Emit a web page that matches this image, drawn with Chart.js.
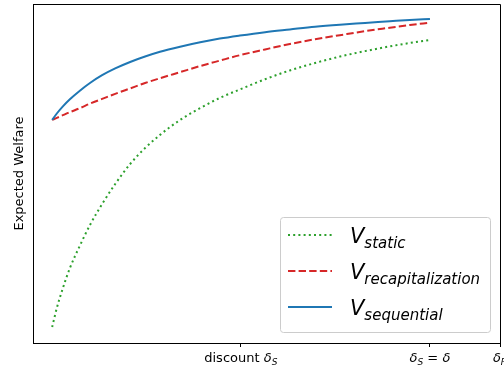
<!DOCTYPE html>
<html>
<head>
<meta charset="utf-8">
<script src="https://cdn.jsdelivr.net/npm/chart.js@4"></script>
<style>
  html, body { margin: 0; padding: 0; background: #fff; }
  canvas { display: block; }
</style>
</head>
<body>
<canvas id="welfare" width="504" height="371"></canvas>
<script>
const discount = [0.041, 0.051, 0.064, 0.079, 0.101, 0.122, 0.148, 0.176, 0.208, 0.240, 0.272, 0.315,
  0.358, 0.400, 0.443, 0.497, 0.550, 0.604, 0.657, 0.711, 0.764, 0.807, 0.850];

const vStatic = [0.047, 0.103, 0.162, 0.221, 0.289, 0.348, 0.410, 0.469, 0.528, 0.575, 0.614, 0.658,
  0.693, 0.723, 0.748, 0.778, 0.804, 0.826, 0.845, 0.861, 0.875, 0.885, 0.894];
const vRecap = [0.658, 0.664, 0.672, 0.681, 0.693, 0.706, 0.720, 0.735, 0.751, 0.767, 0.781, 0.799,
  0.817, 0.833, 0.849, 0.866, 0.882, 0.896, 0.908, 0.920, 0.930, 0.938, 0.945];
const vSequential = [0.658, 0.677, 0.698, 0.719, 0.745, 0.767, 0.790, 0.810, 0.829, 0.845, 0.859, 0.874,
  0.887, 0.898, 0.907, 0.917, 0.925, 0.933, 0.939, 0.944, 0.949, 0.953, 0.956];

// x ticks: value + label pieces ([text, kind]) kind: n = normal, i = italic, s = subscript
const tickValues = [0.445, 0.85, 1.0];
const tickLabels = [
  [["discount ", "n"], ["δ", "i"], ["S", "s"]],
  [["δ", "i"], ["S", "s"], [" = ", "n"], ["δ", "i"]],
  [["δ", "i"], ["R", "s"]]
];
const seriesNames = ["static", "recapitalization", "sequential"];

const FONT = "'DejaVu Sans', sans-serif";

function pts(ys) {
  return discount.map((x, i) => ({ x: x, y: ys[i] }));
}

// draw a little run of mixed normal / italic / subscript text
function richText(ctx, parts, x, y, size, align) {
  const subSize = Math.round(size * 0.7);
  const fonts = {
    n: size + "px " + FONT,
    i: "italic " + size + "px " + FONT,
    s: "italic " + subSize + "px " + FONT
  };
  let total = 0;
  parts.forEach(p => { ctx.font = fonts[p[1]]; total += ctx.measureText(p[0]).width; });
  let cx = align === "center" ? x - total / 2 : x;
  ctx.textBaseline = "alphabetic";
  ctx.textAlign = "left";
  parts.forEach(p => {
    ctx.font = fonts[p[1]];
    const dy = p[1] === "s" ? size * 0.22 : 0;
    ctx.fillText(p[0], cx, y + dy);
    cx += ctx.measureText(p[0]).width;
  });
}

const extras = {
  id: "extras",
  afterDraw(chart) {
    const ctx = chart.ctx;
    const a = chart.chartArea;
    ctx.save();

    // top + right spines
    ctx.strokeStyle = "#000";
    ctx.lineWidth = 1;
    ctx.beginPath();
    ctx.moveTo(a.left, a.top + 0.5);
    ctx.lineTo(a.right + 0.5, a.top + 0.5);
    ctx.lineTo(a.right + 0.5, a.bottom);
    ctx.stroke();

    // tick labels
    ctx.fillStyle = "#000";
    const xs = chart.scales.x;
    tickValues.forEach((v, i) => {
      richText(ctx, tickLabels[i], xs.getPixelForValue(v), 362, 13, "center");
    });

    // legend box
    const lx = 280, ly = 217, lw = 210, lh = 115;
    ctx.fillStyle = "rgba(255,255,255,0.8)";
    ctx.strokeStyle = "#cccccc";
    ctx.beginPath();
    ctx.roundRect(lx + 0.5, ly + 0.5, lw, lh, 3);
    ctx.fill();
    ctx.stroke();

    const rows = [235, 271, 307];
    chart.data.datasets.forEach((ds, i) => {
      const y = rows[i];
      ctx.strokeStyle = ds.borderColor;
      ctx.lineWidth = ds.borderWidth;
      ctx.setLineDash(ds.borderDash || []);
      ctx.beginPath();
      ctx.moveTo(288, y);
      ctx.lineTo(332, y);
      ctx.stroke();
      ctx.setLineDash([]);
      ctx.fillStyle = "#000";
      richText(ctx, [["V", "i"], [seriesNames[i], "s"]], 350, y + 8, 21, "left");
    });
    ctx.restore();
  }
};

new Chart(document.getElementById("welfare").getContext("2d"), {
  type: "line",
  data: {
    datasets: [
      {
        label: "V_static",
        data: pts(vStatic),
        borderColor: "#2ca02c",
        borderWidth: 2,
        borderDash: [2, 3.2],
        order: 3
      },
      {
        label: "V_recapitalization",
        data: pts(vRecap),
        borderColor: "#d62728",
        borderWidth: 2,
        borderDash: [7.4, 3.2],
        order: 2
      },
      {
        label: "V_sequential",
        data: pts(vSequential),
        borderColor: "#1f77b4",
        borderWidth: 2,
        order: 1
      }
    ]
  },
  options: {
    responsive: false,
    animation: false,
    devicePixelRatio: 1,
    layout: { padding: { top: 4, right: 4, left: 0, bottom: 0 } },
    elements: {
      point: { radius: 0 },
      line: { cubicInterpolationMode: "monotone", fill: false, borderCapStyle: "butt" }
    },
    plugins: { legend: { display: false }, tooltip: { enabled: false } },
    scales: {
      x: {
        type: "linear",
        min: 0,
        max: 1,
        afterBuildTicks: s => { s.ticks = tickValues.map(v => ({ value: v })); },
        afterFit: s => { s.height = 28; },
        ticks: { display: false },
        grid: { drawOnChartArea: false, drawTicks: true, tickLength: 4, color: "#000", lineWidth: 1 },
        border: { display: true, color: "#000", width: 1 }
      },
      y: {
        min: 0,
        max: 1,
        afterFit: s => { s.width = 33; },
        ticks: { display: false },
        grid: { display: false },
        border: { display: true, color: "#000", width: 1 },
        title: {
          display: true,
          text: "Expected Welfare",
          color: "#000",
          font: { family: FONT, size: 13 },
          padding: { top: 12, bottom: 0 }
        }
      }
    }
  },
  plugins: [extras]
});
</script>
</body>
</html>
